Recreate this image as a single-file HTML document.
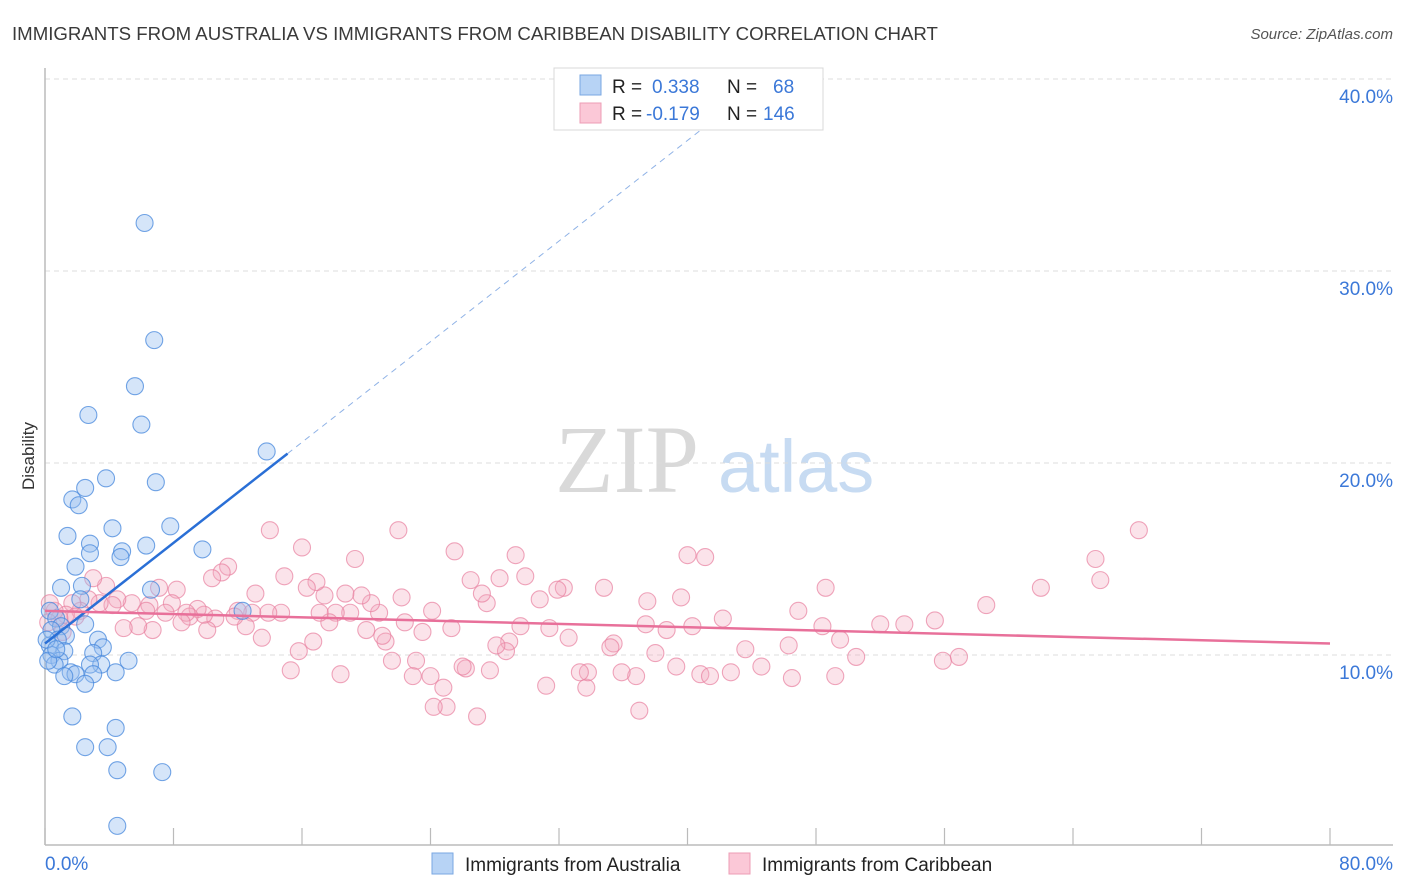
<!DOCTYPE html>
<html><head><meta charset="utf-8">
<style>
body{margin:0;background:#fff;font-family:"Liberation Sans",sans-serif;}
#wrap{position:relative;width:1406px;height:892px;overflow:hidden;}
</style></head>
<body>
<div id="wrap">
<svg id="svg" width="1406" height="892" xmlns="http://www.w3.org/2000/svg">
<text x="12" y="40" font-size="18.65" fill="#3a3a3a">IMMIGRANTS FROM AUSTRALIA VS IMMIGRANTS FROM CARIBBEAN DISABILITY CORRELATION CHART</text>
<text x="1393" y="39" font-size="15" fill="#555" font-style="italic" text-anchor="end">Source: ZipAtlas.com</text>
<text transform="translate(34,456) rotate(-90)" font-size="17" fill="#333" text-anchor="middle">Disability</text>
<g>
<text x="555" y="492" font-family="Liberation Serif,serif" font-size="96" fill="#d9d9d9">ZIP</text>
<text x="718" y="492" font-size="74" fill="#c7dbf2">atlas</text>
</g>
<g id="grid"></g>
<g id="axes"></g>
<g id="pts"></g>
<g id="lines"></g>
<g>
<rect x="554" y="68" width="269" height="62" fill="#fff" stroke="#d8d8d8"/>
<rect x="580" y="75" width="21" height="20" fill="#b7d3f5" stroke="#7aa7e2"/>
<rect x="580" y="103" width="21" height="20" fill="#fbc8d7" stroke="#ec9db5"/>
<text x="612" y="93" font-size="19" fill="#222">R = </text>
<text x="652" y="93" font-size="19" fill="#3b78d8">0.338</text>
<text x="727" y="93" font-size="19" fill="#222">N = </text>
<text x="773" y="93" font-size="19" fill="#3b78d8">68</text>
<text x="612" y="120" font-size="19" fill="#222">R = </text>
<text x="646" y="120" font-size="19" fill="#3b78d8">-0.179</text>
<text x="727" y="120" font-size="19" fill="#222">N = </text>
<text x="763" y="120" font-size="19" fill="#3b78d8">146</text>
</g>
<g>
<rect x="432" y="853" width="21" height="21" fill="#b7d3f5" stroke="#7aa7e2"/>
<text x="465" y="871" font-size="19" fill="#222">Immigrants from Australia</text>
<rect x="729" y="853" width="21" height="21" fill="#fbc8d7" stroke="#ec9db5"/>
<text x="762" y="871" font-size="19" fill="#222">Immigrants from Caribbean</text>
</g>
</svg>
</div>
<script>
const xTicks=[0,8,16,24,32,40,48,56,64,72,80];
const yTicks=[10,20,30,40];
const yTickLabels=["10.0%","20.0%","30.0%","40.0%"];
const xEndLabels=["0.0%","80.0%"];
const ausX=[6.2,6.8,5.6,6.0,2.7,13.8,3.8,6.9,2.5,1.7,2.1,4.2,7.8,1.4,2.8,6.3,2.8,4.8,4.7,9.8,1.9,1.0,2.3,6.6,2.2,12.3,0.3,0.7,2.5,1.0,0.4,1.3,0.8,3.3,3.6,0.3,3.0,1.2,0.4,0.9,5.2,3.5,2.8,0.6,1.6,4.4,1.9,3.0,1.2,2.5,1.7,4.4,2.5,3.9,4.5,7.3,4.5,0.2,0.1,0.7];
const ausY=[32.5,26.4,24.0,22.0,22.5,20.6,19.2,19.0,18.7,18.1,17.8,16.6,16.7,16.2,15.8,15.7,15.3,15.4,15.1,15.5,14.6,13.5,13.6,13.4,12.9,12.3,12.3,11.9,11.6,11.5,11.3,11.0,10.8,10.8,10.4,10.5,10.1,10.2,10.0,9.7,9.7,9.5,9.5,9.5,9.1,9.1,9.0,9.0,8.9,8.5,6.8,6.2,5.2,5.2,4.0,3.9,1.1,9.7,10.8,10.3];
const carX=[68.1,65.4,65.7,62.0,58.6,55.4,53.5,52.0,55.9,56.9,50.5,49.2,49.5,48.4,48.6,46.9,46.5,46.3,44.6,43.6,42.7,42.2,41.1,40.0,39.6,40.3,40.8,41.4,39.3,38.7,38.0,37.5,37.4,36.8,35.9,37.0,35.4,35.2,34.8,33.7,33.8,33.3,32.6,32.3,31.9,31.4,31.2,30.8,29.9,29.3,29.6,28.9,28.7,28.1,28.3,27.7,27.5,27.2,26.5,26.9,26.2,26.0,25.5,25.3,25.0,24.8,24.2,24.0,24.1,23.5,23.1,22.9,22.4,22.2,22.0,21.6,21.2,21.0,20.8,20.3,19.7,20.0,19.3,19.0,18.7,18.4,18.1,17.7,17.4,17.1,16.9,16.7,16.3,16.0,15.8,15.3,14.9,14.7,14.0,13.9,13.5,13.1,12.9,12.5,12.0,11.8,11.4,11.0,10.4,10.6,10.1,9.9,9.5,9.0,8.8,8.5,8.2,7.9,7.5,7.1,6.7,6.5,6.3,5.8,5.4,4.9,4.5,4.2,3.8,3.4,3.0,2.7,2.2,1.7,1.3,0.9,0.6,0.3,0.2,1.1,1.9];
const carY=[16.5,15.0,13.9,13.5,12.6,11.8,11.6,11.6,9.7,9.9,9.9,8.9,10.8,11.5,13.5,12.3,8.8,10.5,9.4,10.3,9.1,11.9,15.1,15.2,13.0,11.5,9.0,8.9,9.4,11.3,10.1,12.8,11.6,8.9,9.1,7.1,10.6,10.4,13.5,8.3,9.1,9.1,10.9,13.5,13.4,11.4,8.4,12.9,14.1,15.2,11.5,10.7,10.2,10.5,14.0,9.2,12.7,13.2,13.9,6.8,9.3,9.4,15.4,11.4,7.3,8.3,7.3,8.9,12.3,11.2,9.7,8.9,11.7,13.0,16.5,9.7,10.7,11.0,12.2,12.7,13.1,11.3,15.0,12.2,13.2,9.0,12.2,11.7,13.1,12.2,13.8,10.7,13.5,15.6,10.2,9.2,14.1,12.2,16.5,12.2,10.9,13.2,12.2,11.5,12.3,12.0,14.6,14.3,14.0,11.9,11.3,12.1,12.4,12.0,12.2,11.7,13.4,12.7,12.2,13.5,11.3,12.6,12.3,11.5,12.7,11.4,12.9,12.6,13.6,12.7,14.0,12.9,12.3,12.7,12.1,11.9,12.3,12.7,11.7,11.2,12.0];
const ausTrend=[10.6,0.655]; // intercept, slope
const ausSolidEnd=15.1, ausDashEnd=42;
const carTrend=[12.3,-0.0213];

const X0=45,X1=1330,Y0=847,PX=19.2;
const sx=v=>X0+(v/80)*(X1-X0);
const sy=v=>Y0-v*PX;
const NS="http://www.w3.org/2000/svg";
function mk(tag,attrs,parent){const e=document.createElementNS(NS,tag);for(const k in attrs)e.setAttribute(k,attrs[k]);parent.appendChild(e);return e;}
const grid=document.getElementById('grid'),axes=document.getElementById('axes'),pts=document.getElementById('pts'),lines=document.getElementById('lines');
yTicks.forEach((t,i)=>{
  const l=mk('line',{x1:X0,x2:1393,y1:sy(t),y2:sy(t),stroke:'#dcdcdc','stroke-dasharray':'5,4','stroke-width':1},grid);
  
  
  const tx=mk('text',{x:1393,y:sy(t)+24,'font-size':19,fill:'#3b78d8','text-anchor':'end'},axes);
  tx.textContent=yTickLabels[i];
  
  
});
const ya=mk('line',{x1:X0,x2:X0,y1:68,y2:845,stroke:'#bbb','stroke-width':1.5},axes);


const xa=mk('line',{x1:X0,x2:1393,y1:845,y2:845,stroke:'#bbb','stroke-width':1.5},axes);


xTicks.forEach(t=>{
  const l=mk('line',{x1:sx(t),x2:sx(t),y1:828,y2:845,stroke:'#bbb','stroke-width':1.2},axes);
  
  
});
const xl0=mk('text',{x:45,y:870,'font-size':19,fill:'#3b78d8'},axes);xl0.textContent=xEndLabels[0];


const xl1=mk('text',{x:1393,y:870,'font-size':19,fill:'#3b78d8','text-anchor':'end'},axes);xl1.textContent=xEndLabels[1];


carX.forEach((v,i)=>{
  const c=mk('circle',{cx:sx(v),cy:sy(carY[i]),r:8.5,fill:'rgba(244,170,192,0.33)',stroke:'rgba(232,128,160,0.7)','stroke-width':1.1},pts);
  
  
});
ausX.forEach((v,i)=>{
  const c=mk('circle',{cx:sx(v),cy:sy(ausY[i]),r:8.5,fill:'rgba(150,190,240,0.4)',stroke:'rgba(70,135,220,0.75)','stroke-width':1.1},pts);
  
  
});
const fa=x=>ausTrend[0]+ausTrend[1]*x, fc=x=>carTrend[0]+carTrend[1]*x;
const ad=mk('line',{x1:sx(ausSolidEnd),y1:sy(fa(ausSolidEnd)),x2:sx(ausDashEnd),y2:sy(fa(ausDashEnd)),stroke:'#8fb2e6','stroke-width':1,'stroke-dasharray':'6,5'},lines);


const as=mk('line',{x1:sx(0),y1:sy(fa(0)),x2:sx(ausSolidEnd),y2:sy(fa(ausSolidEnd)),stroke:'#2a6fd6','stroke-width':2.5},lines);


const cl=mk('line',{x1:sx(0),y1:sy(fc(0)),x2:sx(80),y2:sy(fc(80)),stroke:'#e8709a','stroke-width':2.5},lines);


</script>
</body></html>
